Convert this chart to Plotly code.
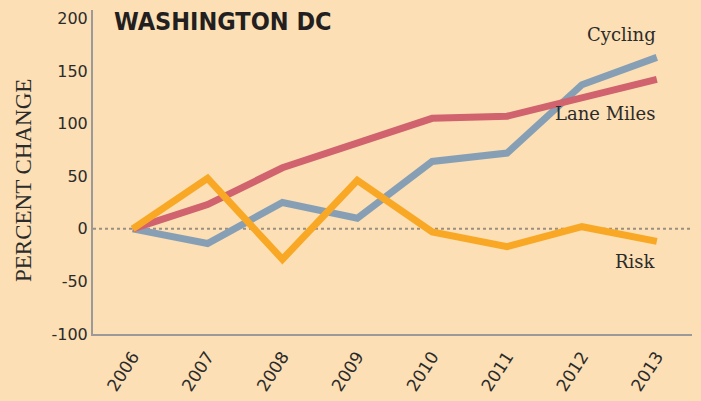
import plotly.graph_objects as go

years = [2006, 2007, 2008, 2009, 2010, 2011, 2012, 2013]
cycling = [0, -14, 25, 10, 64, 72, 137, 163]
lane_miles = [0, 23, 58, 82, 105, 107, 125, 142]
risk = [0, 48, -29, 46, -3, -17, 2, -12]
y_ticks = [-100, -50, 0, 50, 100, 150, 200]
y_tick_text = ["-100", "-50", "0", "50", "100", "150", "200"]

BG = "#FCDFB4"
fig = go.Figure()

fig.add_trace(go.Scatter(x=[2005.47, 2013.47], y=[0, 0], mode="lines",
                         line=dict(color="#9a8f80", width=2, dash="dot"),
                         hoverinfo="skip", showlegend=False))
fig.add_trace(go.Scatter(x=years, y=cycling, mode="lines", name="Cycling",
                         line=dict(color="#879FB5", width=7)))
fig.add_trace(go.Scatter(x=years, y=lane_miles, mode="lines", name="Lane Miles",
                         line=dict(color="#D0636E", width=7)))
fig.add_trace(go.Scatter(x=years, y=risk, mode="lines", name="Risk",
                         line=dict(color="#F9A825", width=7)))

label_font = dict(family="DejaVu Serif", size=18, color="#2b2b2b")
fig.add_annotation(x=2013.02, y=185, text="Cycling", showarrow=False, xanchor="right", font=label_font)
fig.add_annotation(x=2013.02, y=110, text="Lane Miles", showarrow=False, xanchor="right", font=label_font)
fig.add_annotation(x=2013.02, y=-31, text="Risk", showarrow=False, xanchor="right", font=label_font)

fig.add_annotation(xref="paper", yref="paper", x=0.031, y=1.015, xanchor="left", yanchor="top",
                   text="<b>WASHINGTON DC</b>", showarrow=False,
                   font=dict(family="DejaVu Sans Condensed, sans-serif", size=25, color="#231f20"))
fig.add_annotation(xref="paper", yref="paper", x=-0.117, y=0.475, textangle=-90,
                   xanchor="center", yanchor="middle",
                   text="PERCENT CHANGE", showarrow=False,
                   font=dict(family="Liberation Serif", size=23, color="#2b2b2b"))

fig.update_layout(
    width=701, height=401,
    paper_bgcolor=BG, plot_bgcolor=BG,
    margin=dict(l=93, r=9, t=10, b=67),
    showlegend=False,
    xaxis=dict(range=[2005.47, 2013.47], tickvals=years, ticktext=[str(y) for y in years],
               tickangle=-57, showgrid=False, zeroline=False, showline=True,
               linecolor="#9a9a9a", linewidth=2, ticks="", automargin=False,
               ticklabelstandoff=4,
               tickfont=dict(family="DejaVu Sans", size=17, color="#2b2b2b")),
    yaxis=dict(range=[-100, 208], tickvals=y_ticks, ticktext=y_tick_text,
               showgrid=False, zeroline=False,
               showline=True, linecolor="#9a9a9a", linewidth=2, ticks="", automargin=False,
               tickfont=dict(family="DejaVu Sans", size=16, color="#2b2b2b")),
)

fig.write_html("out.html", config={"displayModeBar": False},
               post_script="document.body.style.margin='0';document.body.style.overflow='hidden';")
